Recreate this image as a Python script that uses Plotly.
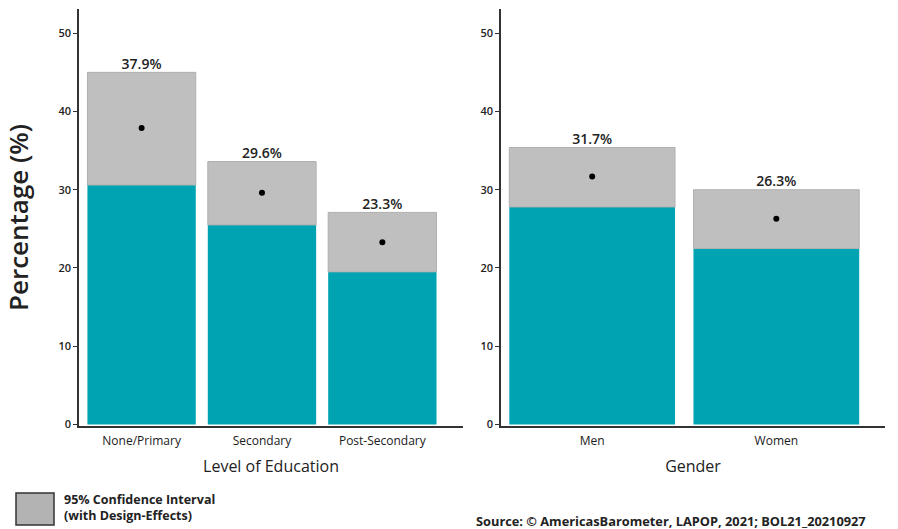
import plotly.graph_objects as go

edu_cats = ["None/Primary", "Secondary", "Post-Secondary"]
edu_est = [37.9, 29.6, 23.3]
edu_low = [30.6, 25.5, 19.5]
edu_high = [45.0, 33.6, 27.1]

gen_cats = ["Men", "Women"]
gen_est = [31.7, 26.3]
gen_low = [27.8, 22.5]
gen_high = [35.4, 30.0]

y_ticks = [0, 10, 20, 30, 40, 50]

TEAL = "#00A3B2"
GRAY = "#BFBFBF"
FONT = "Open Sans"

fig = go.Figure()


def add_panel(cats, est, low, high, xa, ya):
    xs = list(range(len(cats)))
    fig.add_trace(go.Bar(x=xs, y=low, marker=dict(color=TEAL, line=dict(width=0)),
                         width=0.9, xaxis=xa, yaxis=ya, showlegend=False, hoverinfo="skip"))
    fig.add_trace(go.Bar(x=xs, y=[h - l for h, l in zip(high, low)], base=low,
                         marker=dict(color=GRAY, line=dict(color="#B0B0B0", width=1)),
                         width=0.9, xaxis=xa, yaxis=ya, showlegend=False, hoverinfo="skip"))
    fig.add_trace(go.Scatter(x=xs, y=est, mode="markers",
                             marker=dict(color="black", size=6),
                             xaxis=xa, yaxis=ya, showlegend=False, hoverinfo="skip"))
    fig.add_trace(go.Scatter(x=xs, y=high, mode="text",
                             text=[f"{v:.1f}%" for v in est], textposition="top center",
                             textfont=dict(family=FONT, size=14, color="#222", weight=600),
                             xaxis=xa, yaxis=ya, showlegend=False, hoverinfo="skip"))


add_panel(edu_cats, edu_est, edu_low, edu_high, "x", "y")
add_panel(gen_cats, gen_est, gen_low, gen_high, "x2", "y2")

ydom = [(529 - 426) / 529, (529 - 9) / 529]
yaxis_common = dict(range=[-0.2, 53.1], tickvals=y_ticks, showgrid=False, zeroline=False,
                    showline=True, linecolor="#333", linewidth=1.5, ticks="outside",
                    ticklen=4, tickcolor="#333", domain=ydom, automargin=False,
                    tickfont=dict(family=FONT, size=11, color="#222", weight=600))
xaxis_common = dict(showgrid=False, zeroline=False, showline=True, linecolor="#333",
                    linewidth=1.5, ticks="", automargin=False, ticklabelstandoff=3,
                    tickfont=dict(family=FONT, size=12, color="#1a1a1a"))

fig.update_layout(
    width=898, height=529,
    margin=dict(l=0, r=0, t=0, b=0),
    paper_bgcolor="white", plot_bgcolor="white",
    barmode="overlay",
    font=dict(family=FONT, color="#222"),
    xaxis=dict(xaxis_common, domain=[79 / 898, 463 / 898], range=[-0.52, 2.67],
               tickvals=list(range(len(edu_cats))), ticktext=edu_cats,
               title=dict(text="Level of Education", font=dict(family=FONT, size=16, color="#222"),
                          standoff=13), anchor="y"),
    yaxis=dict(yaxis_common, anchor="x",
               title=dict(text="Percentage (%)",
                          font=dict(family=FONT, size=26, color="#222", weight=600),
                          standoff=22)),
    xaxis2=dict(xaxis_common, domain=[501 / 898, 885 / 898], range=[-0.495, 1.59],
                tickvals=list(range(len(gen_cats))), ticktext=gen_cats,
                title=dict(text="Gender", font=dict(family=FONT, size=16, color="#222"),
                           standoff=13), anchor="y2"),
    yaxis2=dict(yaxis_common, anchor="x2"),
)

fig.add_shape(type="rect", xref="paper", yref="paper",
              x0=16 / 898, x1=54 / 898, y0=(529 - 525) / 529, y1=(529 - 493) / 529,
              fillcolor="#B3B3B3", line=dict(color="#333", width=1.5))
fig.add_annotation(xref="paper", yref="paper", x=62 / 898, y=(529 - 507) / 529,
                   xanchor="left", yanchor="middle", showarrow=False, align="left",
                   text="<b>95% Confidence Interval<br>(with Design-Effects)</b>",
                   font=dict(family=FONT, size=12.5, color="#222"))
fig.add_annotation(xref="paper", yref="paper", x=474 / 898, y=(529 - 521) / 529,
                   xanchor="left", yanchor="middle", showarrow=False,
                   text="<b>Source: © AmericasBarometer, LAPOP, 2021; BOL21_20210927</b>",
                   font=dict(family=FONT, size=12.8, color="#222"))

fig.write_html("out.html")
